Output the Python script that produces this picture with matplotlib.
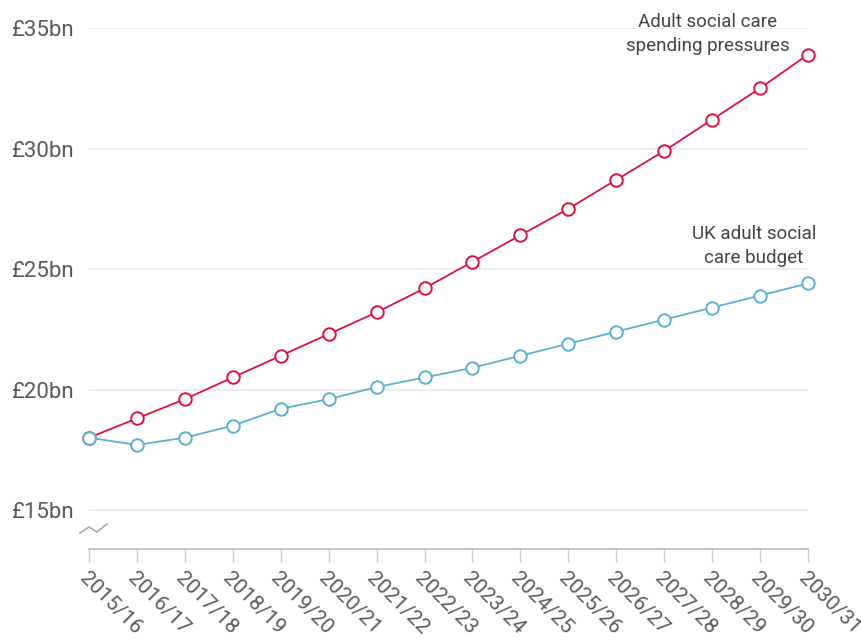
import matplotlib
matplotlib.use("Agg")
import matplotlib.pyplot as plt
from matplotlib.lines import Line2D

years = ["2015/16", "2016/17", "2017/18", "2018/19", "2019/20", "2020/21", "2021/22",
         "2022/23", "2023/24", "2024/25", "2025/26", "2026/27", "2027/28", "2028/29",
         "2029/30", "2030/31"]
pressures = [18.0, 18.8, 19.6, 20.5, 21.4, 22.3, 23.2, 24.2, 25.3, 26.4, 27.5, 28.7,
             29.9, 31.2, 32.5, 33.9]
budget = [18.0, 17.7, 18.0, 18.5, 19.2, 19.6, 20.1, 20.5, 20.9, 21.4, 21.9, 22.4,
          22.9, 23.4, 23.9, 24.4]
yticks = [15, 20, 25, 30, 35]
ytick_labels = ["£15bn", "£20bn", "£25bn", "£30bn", "£35bn"]

red = "#e0103f"
blue = "#5ab2cf"
grey_text = "#5a5a5a"

plt.rcParams['font.family'] = ['Roboto', 'DejaVu Sans']

W, H = 861, 642
fig = plt.figure(figsize=(W / 100, H / 100), dpi=100)
ax = fig.add_axes([89 / W, (H - 549) / H, (808 - 89) / W, (549 - 28) / H])

x = list(range(len(years)))
ax.plot(x, pressures, color=red, lw=1.3, marker='o', ms=9, mfc='white', mec=red,
        mew=1.4, clip_on=False, zorder=3)
ax.plot(x, budget, color=blue, lw=1.3, marker='o', ms=9, mfc='white', mec=blue,
        mew=1.4, clip_on=False, zorder=3)

ax.set_xlim(0, len(years) - 1)
ax.set_ylim(15 - 39 / 24.1, 35)

ax.set_yticks(yticks)
ax.set_yticklabels(ytick_labels, fontsize=16, color=grey_text)
ax.tick_params(axis='y', length=0, pad=11)
ax.grid(axis='y', color='#ebebeb', lw=1.2)
ax.set_axisbelow(True)

ax.set_xticks(x)
ax.set_xticklabels(years, rotation=-45, ha='left', va='top', rotation_mode='anchor',
                   fontsize=15, color=grey_text)
ax.tick_params(axis='x', length=9, color='#cccccc', width=1, pad=5)

for s in ['top', 'right', 'left']:
    ax.spines[s].set_visible(False)
ax.spines['bottom'].set_color('#bbbbbb')
ax.spines['bottom'].set_linewidth(1.2)

ax.text(12.9, 34.75, "Adult social care\nspending pressures", ha='center',
        va='center', fontsize=13.5, color='#444444', linespacing=1.4)
ax.text(13.87, 25.95, "UK adult social\ncare budget", ha='center',
        va='center', fontsize=13.5, color='#444444', linespacing=1.4)

# axis break marker
px = [80, 89, 97, 107]
py = [533, 527, 532, 524]
fig.add_artist(Line2D([p / W for p in px], [(H - p) / H for p in py],
                      transform=fig.transFigure, color='#aaaaaa', lw=1.2))

fig.savefig("out.png", dpi=100, facecolor='white')
